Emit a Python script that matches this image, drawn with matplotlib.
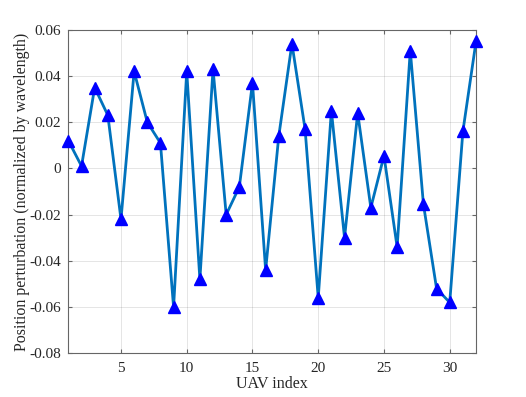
import matplotlib
matplotlib.use("Agg")
import matplotlib.pyplot as plt
import numpy as np

uav_index = list(range(1, 33))
perturbation = [0.012, 0.001, 0.035, 0.023, -0.022, 0.042, 0.020, 0.011,
                -0.060, 0.042, -0.048, 0.043, -0.020, -0.008, 0.037, -0.044,
                0.014, 0.054, 0.017, -0.056, 0.025, -0.030, 0.024, -0.017,
                0.0055, -0.034, 0.051, -0.0155, -0.052, -0.058, 0.016, 0.055]
xticks = [5, 10, 15, 20, 25, 30]
yticks = [-0.08, -0.06, -0.04, -0.02, 0, 0.02, 0.04, 0.06]
ytick_labels = ["-0.08", "-0.06", "-0.04", "-0.02", "0", "0.02", "0.04", "0.06"]

plt.rcParams['font.family'] = ['Liberation Serif', 'DejaVu Serif']

fig = plt.figure(figsize=(5.26, 3.97), dpi=100)
ax = fig.add_axes([0.13, 0.11, 0.775, 0.815])

ax.plot(uav_index, perturbation, color=(0, 0.447, 0.741), linewidth=2,
        marker='^', markersize=9, markerfacecolor=(0, 0, 1),
        markeredgecolor=(0, 0, 1), zorder=3, clip_on=False)

ax.set_xlim(1, 32)
ax.set_ylim(-0.08, 0.06)
ax.set_xticks(xticks)
ax.set_yticks(yticks)
ax.set_yticklabels(ytick_labels)
ax.grid(True, color=(0.15, 0.15, 0.15), alpha=0.12, linewidth=0.7)
ax.set_axisbelow(True)

for s in ax.spines.values():
    s.set_color((0.4, 0.4, 0.4))
    s.set_linewidth(0.8)
ax.tick_params(direction='in', top=True, right=True, length=3,
               color=(0.4, 0.4, 0.4), labelsize=11, labelcolor=(0.15, 0.15, 0.15))
ax.tick_params(axis='x', pad=6)
ax.tick_params(axis='y', pad=5)

ax.set_xlabel('UAV index', fontsize=11.5, color=(0.15, 0.15, 0.15), labelpad=1)
ax.set_ylabel('Position perturbation (normalized by wavelength)', fontsize=11.5,
              color=(0.15, 0.15, 0.15), labelpad=0)

fig.savefig('out.png', dpi=100)
